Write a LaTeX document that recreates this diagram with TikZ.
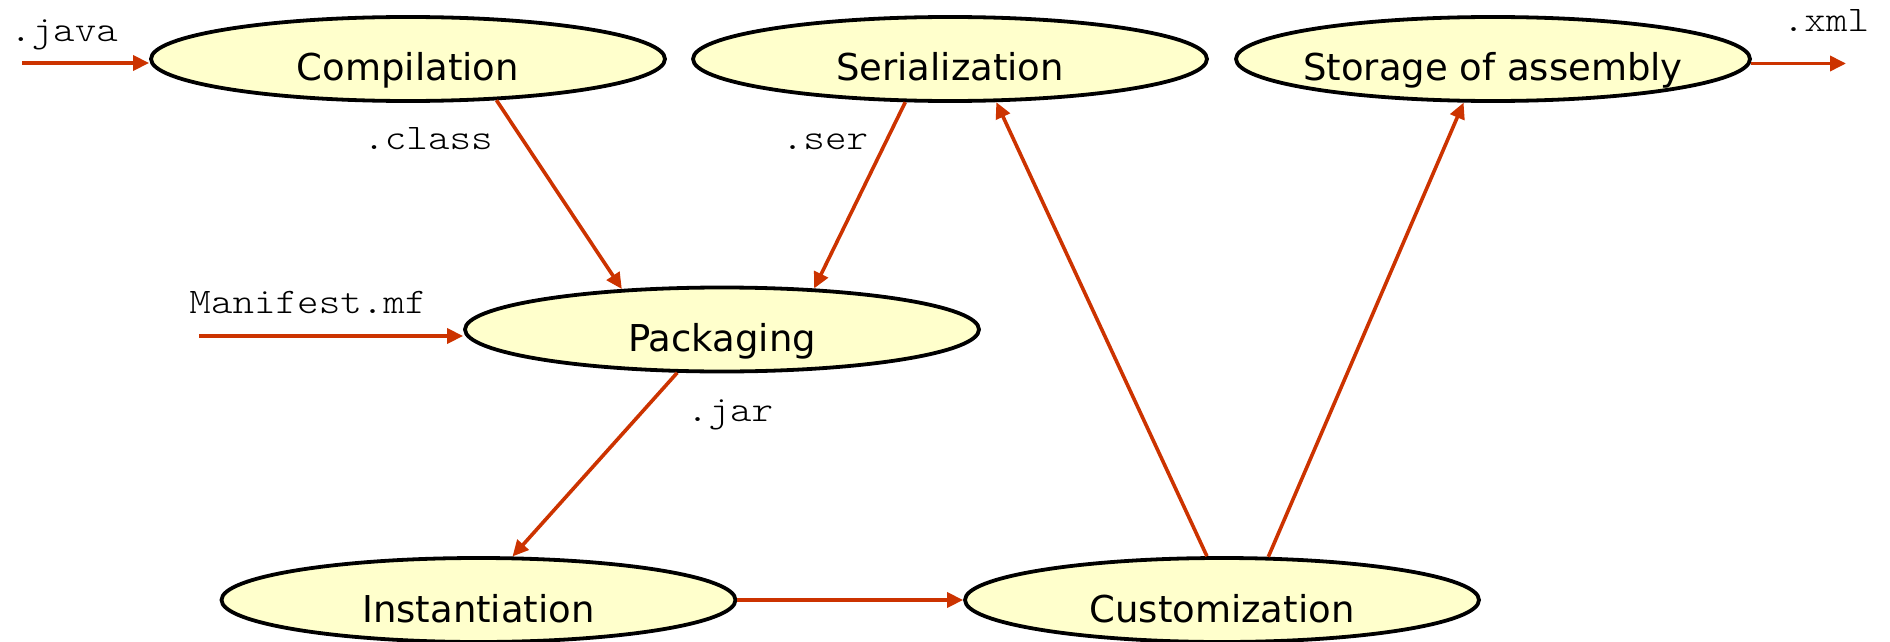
\documentclass[tikz,border=0pt]{standalone}
\usepackage{fontspec}
\setmainfont{DejaVu Sans}
\newfontfamily\labelmono{lmmonolt10-regular.otf}[FakeStretch=1.14]
\usetikzlibrary{shapes.geometric,arrows.meta}
\definecolor{stagefill}{HTML}{FFFFCC}
\definecolor{flowred}{HTML}{CC3300}
\begin{document}
\begin{tikzpicture}[x=1pt,y=-1pt,
  stage/.style={ellipse, draw=black, line width=3.8pt, fill=stagefill,
    minimum width=514pt, minimum height=84pt, inner ysep=0pt, inner xsep=-30pt,
    text height=44pt, text depth=0pt, font=\fontsize{37}{40}\selectfont},
  flow/.style={draw=flowred, line width=3.6pt,
    -{Triangle[length=16pt,width=15pt]}},
  ext/.style={font=\labelmono\fontsize{36}{38}\selectfont,
    anchor=base, inner sep=0pt}]
\useasboundingbox (0,0) rectangle (1890,642);

% stages of the bean life cycle
\node[stage] (comp) at (408,59)    {Compilation};
\node[stage] (ser)  at (950,59)    {Serialization};
\node[stage] (stor) at (1493,59)   {Storage of assembly};
\node[stage] (pack) at (722,329.5) {Packaging};
\node[stage] (inst) at (478.5,600) {Instantiation};
\node[stage] (cust) at (1222,600)  {Customization};

% file kinds passed between stages
\node[ext] (ljava) at (64,42)    {.java};
\node[ext] (lclass) at (428,149) {.class};
\node[ext] (lser) at (825,149)   {.ser};
\node[ext] (lxml) at (1826,32)   {.xml};
\node[ext] (lman) at (308,313)   {Manifest.mf};
\node[ext] (ljar) at (730,421)   {.jar};

% free ends of the inputs and the output
\coordinate (javain) at (22,63);
\coordinate (manin) at (199,336);
\coordinate (xmlout) at (1846,63);

% flows
\draw[flow] (javain) -- (javain -| comp.west);
\draw[flow] (manin) -- (manin -| pack.west);
\draw[flow] (comp.-25) -- (pack.158);
\draw[flow] (ser.-136) -- (pack.24);
\draw[flow] (pack.-136) -- (inst.52);
\draw[flow] (inst.east) -- (cust.west);
\draw[flow] (cust.109) -- (ser.-43);
\draw[flow] (cust.43.5) -- (stor.-124);
\draw[flow] (stor.-1) -- (stor.-1 -| xmlout);
\end{tikzpicture}
\end{document}
